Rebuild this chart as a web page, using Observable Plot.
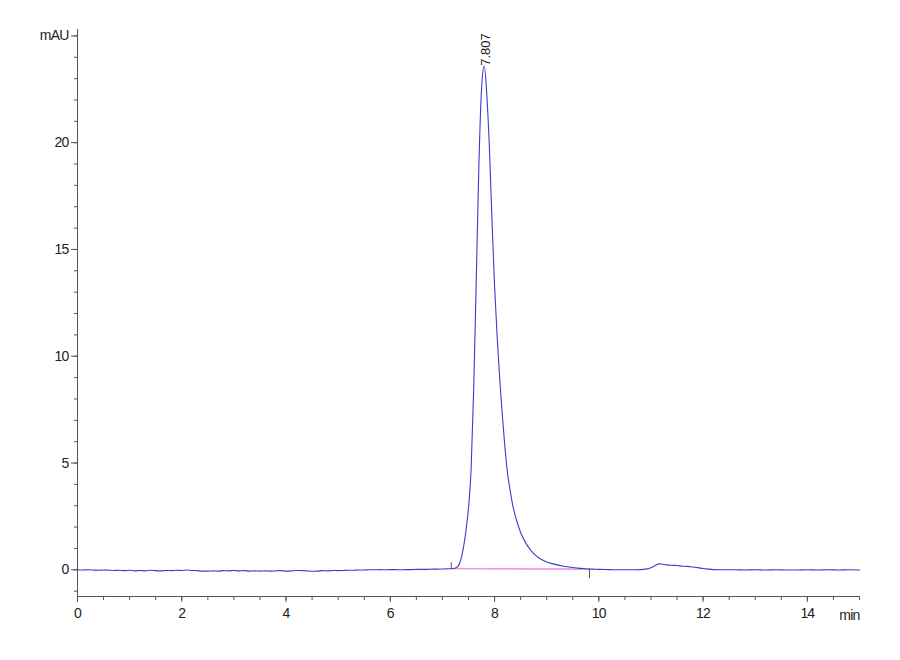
<!DOCTYPE html>
<html><head><meta charset="utf-8">
<script src="https://cdn.jsdelivr.net/npm/d3@7"></script>
<script src="https://cdn.jsdelivr.net/npm/@observablehq/plot@0.6"></script>
<style>
body{margin:0;background:#fff}
g[aria-label="x-axis tick label"], g[aria-label="y-axis tick label"], g.unit-label {letter-spacing:-0.8px}
</style>
</head><body><div id="chart"></div>
<script>
// Chromatogram trace (retention time in min, signal in mAU)
const retentionTime = [
  0.0,0.1,0.2,0.3,0.4,0.5,0.6,0.7,0.8,0.9,
  1.0,1.1,1.2,1.3,1.4,1.5,1.6,1.7,1.8,1.9,
  2.0,2.1,2.2,2.3,2.4,2.5,2.6,2.7,2.8,2.9,
  3.0,3.1,3.2,3.3,3.4,3.5,3.6,3.7,3.8,3.9,
  4.0,4.1,4.2,4.3,4.4,4.5,4.6,4.7,4.8,4.9,
  5.0,5.1,5.2,5.3,5.4,5.5,5.6,5.7,5.8,5.9,
  6.0,6.1,6.2,6.3,6.4,6.5,6.6,6.7,6.8,6.9,
  7.0,7.05,7.1,7.15,7.2,7.25,7.3,7.35,7.4,7.45,
  7.5,7.55,7.6,7.65,7.7,7.75,7.8,7.85,7.9,7.95,
  8.0,8.05,8.1,8.15,8.2,8.25,8.3,8.35,8.4,8.45,
  8.5,8.6,8.7,8.8,8.9,9.0,9.1,9.2,9.3,9.4,
  9.5,9.6,9.7,9.8,9.9,10.0,10.2,10.4,10.6,10.8,
  10.9,11.0,11.1,11.15,11.2,11.3,11.4,11.5,11.6,11.7,
  11.8,11.9,12.0,12.1,12.2,12.4,12.6,12.8,13.0,13.2,
  13.4,13.6,13.8,14.0,14.2,14.4,14.6,14.8,15.0
];
const signal = [
  0.00,-0.01,0.00,-0.01,-0.02,-0.01,-0.02,-0.03,-0.02,-0.04,
  -0.02,-0.05,-0.03,-0.05,-0.02,-0.04,-0.05,-0.03,-0.04,-0.02,
  -0.03,-0.01,-0.03,-0.04,-0.06,-0.06,-0.05,-0.06,-0.04,-0.05,
  -0.03,-0.05,-0.04,-0.06,-0.05,-0.06,-0.05,-0.06,-0.05,-0.04,
  -0.06,-0.05,-0.03,-0.04,-0.05,-0.07,-0.06,-0.04,-0.05,-0.03,
  -0.04,-0.03,-0.02,-0.02,-0.01,-0.01,0.00,0.00,0.01,0.00,
  0.01,0.01,0.00,0.01,0.01,0.02,0.02,0.02,0.03,0.03,
  0.04,0.04,0.05,0.05,0.06,0.09,0.17,0.45,1.0,1.8,
  2.9,4.7,8.5,13.7,19.0,22.5,23.6,22.3,19.8,16.4,
  13.3,10.9,8.9,7.2,5.7,4.5,3.7,3.0,2.5,2.1,
  1.75,1.25,0.9,0.65,0.48,0.37,0.29,0.23,0.18,0.14,
  0.11,0.08,0.06,0.04,0.03,0.02,0.01,0.00,0.00,0.01,
  0.03,0.10,0.22,0.28,0.27,0.23,0.21,0.20,0.17,0.16,
  0.13,0.10,0.06,0.03,0.01,0.00,0.00,-0.01,0.00,-0.01,
  0.00,-0.01,-0.01,0.00,-0.01,0.00,-0.01,0.00,-0.01
];
// Integration baseline and peak annotation
const baselineTime = [7.17, 9.82];
const baselineSignal = [0.05, 0.03];
const markerTime = [7.17, 9.82];
const markerFrom = [0.05, 0.03];
const markerTo = [0.33, -0.42];
const peakTime = [7.807];
const peakHeight = [23.6];
const peakLabels = ["7.807"];
// Axis ticks
const xMajorTicks = [0, 2, 4, 6, 8, 10, 12, 14];
const xMinorTicks = [0,0.5,1,1.5,2,2.5,3,3.5,4,4.5,5,5.5,6,6.5,7,7.5,8,8.5,9,9.5,10,10.5,11,11.5,12,12.5,13,13.5,14,14.5,15];
const yMajorTicks = [0, 5, 10, 15, 20, 25];
const yTickLabels = ["0", "5", "10", "15", "20", "mAU"];
const yMinorTicks = [-1,0,1,2,3,4,5,6,7,8,9,10,11,12,13,14,15,16,17,18,19,20,21,22,23,24,25];
const xUnitLabel = ["min"];

const trace = retentionTime.map((t, i) => ({t, v: signal[i]}));
const baseline = baselineTime.map((t, i) => ({t, v: baselineSignal[i]}));
const markers = markerTime.map((t, i) => ({t, a: markerFrom[i], b: markerTo[i]}));
const peaks = peakTime.map((t, i) => ({t, v: peakHeight[i], label: peakLabels[i]}));

const font = "'Liberation Sans Narrow','Liberation Sans',Arial,sans-serif";
const chart = Plot.plot({
  width: 900, height: 660,
  marginLeft: 77, marginRight: 41, marginTop: 29, marginBottom: 64,
  x: {domain: [0, 15]},
  y: {domain: [-1.25, 25.3]},
  style: {fontFamily: font, fontSize: "14px", color: "#222", background: "#fff"},
  marks: [
    Plot.ruleY([-1.25], {stroke: "#555"}),
    Plot.ruleX([0], {stroke: "#555"}),
    Plot.axisX({ticks: xMinorTicks, tickSize: 4, tickFormat: () => "", label: null, stroke: "#555"}),
    Plot.axisX({ticks: xMajorTicks, tickSize: 6, tickPadding: 6, tickFormat: d => String(d), label: null, stroke: "#555", fontSize: 14}),
    Plot.axisY({ticks: yMinorTicks, tickSize: 3, tickFormat: () => "", label: null, stroke: "#555"}),
    Plot.axisY({ticks: yMajorTicks, tickSize: 6, tickPadding: 3, tickFormat: d => yTickLabels[yMajorTicks.indexOf(d)], label: null, stroke: "#555", fontSize: 14}),
    Plot.text(xUnitLabel, {x: () => 15, y: () => -1.25, text: d => d, textAnchor: "end", dy: 19, fontSize: 14, fill: "#222", className: "unit-label"}),
    Plot.line(baseline, {x: "t", y: "v", stroke: "#f070d8", strokeWidth: 1.2}),
    Plot.ruleX(markers, {x: "t", y1: "a", y2: "b", stroke: "#555", strokeWidth: 1}),
    Plot.line(trace, {x: "t", y: "v", stroke: "#3c3cc8", strokeWidth: 1.1, curve: "monotone-x"}),
    Plot.text(peaks, {x: "t", y: "v", text: "label", rotate: -90, textAnchor: "start", dy: 0, dx: 1, fontSize: 13, fontFamily: "'Liberation Sans',Arial,sans-serif", fill: "#222"})
  ]
});
document.getElementById("chart").appendChild(chart);
</script>
</body></html>
